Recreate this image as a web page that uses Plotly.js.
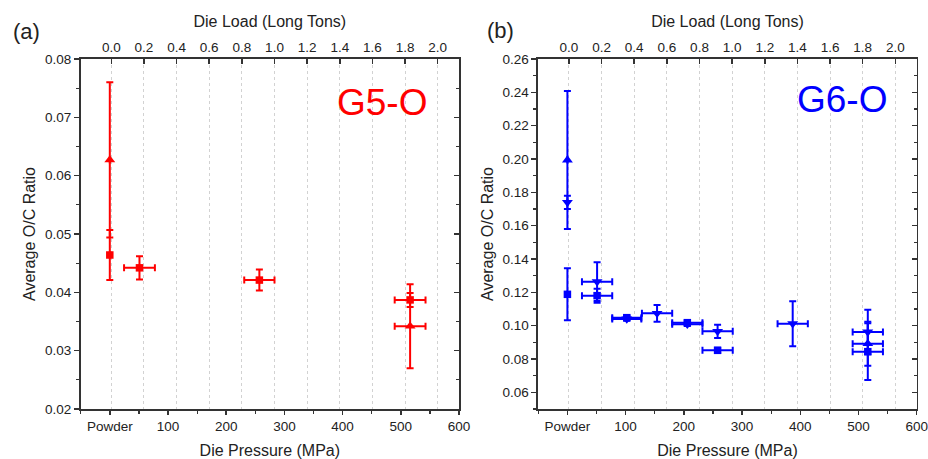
<!DOCTYPE html>
<html>
<head>
<meta charset="utf-8">
<script src="https://cdn.plot.ly/plotly-3.0.1.min.js"></script>
<style>html,body{margin:0;padding:0;background:#fff;}#chart{width:928px;height:459px;}</style>
</head>
<body>
<div id="chart"></div>
<script>
// ---- Data: G5-O (panel a) ----
const g5SqX    = [0, 51, 257, 516];
const g5SqY    = [0.0464, 0.0442, 0.0421, 0.0387];
const g5SqYErr = [0.0043, 0.0020, 0.0018, 0.0012];
const g5SqXErr = [0, 26.5, 26, 26.5];

const g5TriX    = [0, 516];
const g5TriY    = [0.0627, 0.0342];
const g5TriYErr = [0.0133, 0.0072];
const g5TriXErr = [0, 26.5];

// ---- Data: G6-O (panel b) ----
const g6SqX    = [0, 51, 102, 206, 258, 516];
const g6SqY    = [0.1188, 0.1180, 0.1048, 0.1018, 0.0852, 0.0844];
const g6SqYErr = [0.0156, 0.0042, 0.0012, 0.0012, 0.0015, 0.0170];
const g6SqXErr = [0, 26, 25, 26, 26, 26];

const g6DnX    = [0, 51, 102, 154, 206, 258, 387, 516];
const g6DnY    = [0.1740, 0.1264, 0.1040, 0.1074, 0.1008, 0.0966, 0.1012, 0.0962];
const g6DnYErr = [0.0040, 0.0116, 0.0010, 0.0050, 0.0010, 0.0040, 0.0135, 0.0133];
const g6DnXErr = [0, 26, 25, 26, 26, 26, 26, 26];

const g6UpX    = [0, 516];
const g6UpY    = [0.1994, 0.0892];
const g6UpYErr = [0.0414, 0.0132];
const g6UpXErr = [0, 26];

// ---- Axis labels ----
const bottomTitle = 'Die Pressure (MPa)';
const topTitle = 'Die Load (Long Tons)';
const yTitle = 'Average O/C Ratio';
const powderLabel = 'Powder';

const RED = '#ff0000', BLUE = '#0000ff';
const FONT = 'Liberation Sans, Arial, sans-serif';
const LINE = '#333333';

function series(x, y, ye, xe, color, symbol, size, xa, ya) {
  return {
    type: 'scatter', mode: 'markers', x: x, y: y, xaxis: xa, yaxis: ya,
    marker: {color: color, symbol: symbol, size: size, line: {width: 0}},
    error_y: {type: 'data', array: ye, visible: true, color: color, thickness: 2, width: 3.5},
    error_x: {type: 'data', array: xe, visible: true, color: color, thickness: 2, width: 3.5},
    showlegend: false, cliponaxis: false
  };
}
// empty carrier traces so the mirrored top/right axes get drawn
function carrier(xa, ya) {
  return {type: 'scatter', mode: 'markers', x: [], y: [], xaxis: xa, yaxis: ya, showlegend: false, hoverinfo: 'skip'};
}

const data = [
  carrier('x2', 'y3'),
  carrier('x5', 'y5'),
  series(g5SqX, g5SqY, g5SqYErr, g5SqXErr, RED, 'square', 7.5, 'x', 'y'),
  series(g5TriX, g5TriY, g5TriYErr, g5TriXErr, RED, 'triangle-up', 9.5, 'x', 'y'),
  series(g6SqX, g6SqY, g6SqYErr, g6SqXErr, BLUE, 'square', 7.5, 'x4', 'y2'),
  series(g6DnX, g6DnY, g6DnYErr, g6DnXErr, BLUE, 'triangle-down', 9.5, 'x4', 'y2'),
  series(g6UpX, g6UpY, g6UpYErr, g6UpXErr, BLUE, 'triangle-up', 9.5, 'x4', 'y2')
];

const tickFont = {family: FONT, size: 13.5, color: '#222'};
const titleFont = {family: FONT, size: 16, color: '#222'};
const pressRange = [-50, 600];
const tonRange = [-0.1876, 2.1305];

function bottomAxis(domain, anchor) {
  return {
    domain: domain, anchor: anchor, range: pressRange, autorange: false,
    tickmode: 'linear', tick0: 0, dtick: 100, labelalias: {'0': powderLabel},
    ticks: 'outside', ticklen: 4, tickwidth: 1.5, tickcolor: LINE,
    minor: {dtick: 50, ticks: 'outside', ticklen: 3, tickwidth: 1.2, tickcolor: LINE},
    showline: true, linecolor: LINE, linewidth: 1.8, showgrid: false, zeroline: false,
    tickfont: tickFont, automargin: false,
    title: {text: bottomTitle, font: titleFont, standoff: 12}
  };
}
function topAxis(over, anchor) {
  return {
    overlaying: over, anchor: anchor, side: 'top', range: tonRange, autorange: false,
    tickmode: 'linear', tick0: 0, dtick: 0.2, tickformat: '.1f',
    ticks: 'inside', ticklen: 5, tickwidth: 1.5, tickcolor: LINE,
    showline: true, linecolor: LINE, linewidth: 1.8,
    showgrid: true, griddash: 'dot', gridcolor: '#d2d2d2', gridwidth: 1, zeroline: false,
    tickfont: tickFont, automargin: false,
    title: {text: topTitle, font: titleFont, standoff: 8}
  };
}
function leftAxis(domain, anchor, range, dtick, minorDtick) {
  return {
    domain: domain, anchor: anchor, range: range, autorange: false,
    tickmode: 'linear', tick0: 0, dtick: dtick, tickformat: '.2f',
    ticks: 'outside', ticklen: 5, tickwidth: 1.5, tickcolor: LINE,
    minor: {dtick: minorDtick, ticks: 'outside', ticklen: 3, tickwidth: 1.2, tickcolor: LINE},
    showline: true, linecolor: LINE, linewidth: 1.8, showgrid: false, zeroline: false,
    tickfont: tickFont, automargin: false,
    title: {text: yTitle, font: titleFont, standoff: 5}
  };
}
function rightAxis(over, anchor, range, dtick, minorDtick) {
  return {
    overlaying: over, anchor: anchor, side: 'right', range: range, autorange: false,
    tickmode: 'linear', tick0: 0, dtick: dtick, showticklabels: false,
    ticks: 'inside', ticklen: 5, tickwidth: 1.5, tickcolor: LINE,
    minor: {dtick: minorDtick, ticks: 'inside', ticklen: 3, tickwidth: 1.2, tickcolor: LINE},
    showline: true, linecolor: LINE, linewidth: 1.8, showgrid: false, zeroline: false,
    automargin: false
  };
}

const dA = [0.02407, 0.46395];
const dB = [0.55616, 0.99616];
const rA = [0.02, 0.08];
const rB = [0.05, 0.26];

const layout = {
  width: 928, height: 459,
  margin: {l: 60, r: 8, t: 59, b: 50},
  paper_bgcolor: '#fff', plot_bgcolor: '#fff',
  font: {family: FONT, color: '#222'},
  xaxis: bottomAxis(dA, 'y'),
  xaxis2: topAxis('x', 'y'),
  yaxis: leftAxis([0, 1], 'x', rA, 0.01, 0.005),
  yaxis3: rightAxis('y', 'x', rA, 0.01, 0.005),
  xaxis4: bottomAxis(dB, 'y2'),
  xaxis5: topAxis('x4', 'y2'),
  yaxis2: leftAxis([0, 1], 'x4', rB, 0.02, 0.01),
  yaxis5: rightAxis('y2', 'x4', rB, 0.02, 0.01),
  annotations: [
    {text: '(a)', xref: 'paper', yref: 'paper', x: -0.0395, y: 1.078, xanchor: 'center', yanchor: 'middle', showarrow: false, font: {family: FONT, size: 22, color: '#222'}},
    {text: '(b)', xref: 'paper', yref: 'paper', x: 0.512, y: 1.082, xanchor: 'center', yanchor: 'middle', showarrow: false, font: {family: FONT, size: 22, color: '#222'}},
    {text: 'G5-O', xref: 'paper', yref: 'paper', x: 0.3748, y: 0.875, xanchor: 'center', yanchor: 'middle', showarrow: false, font: {family: FONT, size: 37, color: RED}},
    {text: 'G6-O', xref: 'paper', yref: 'paper', x: 0.9089, y: 0.883, xanchor: 'center', yanchor: 'middle', showarrow: false, font: {family: FONT, size: 37, color: BLUE}}
  ]
};

Plotly.newPlot('chart', data, layout, {staticPlot: true, displayModeBar: false});
</script>
</body>
</html>
